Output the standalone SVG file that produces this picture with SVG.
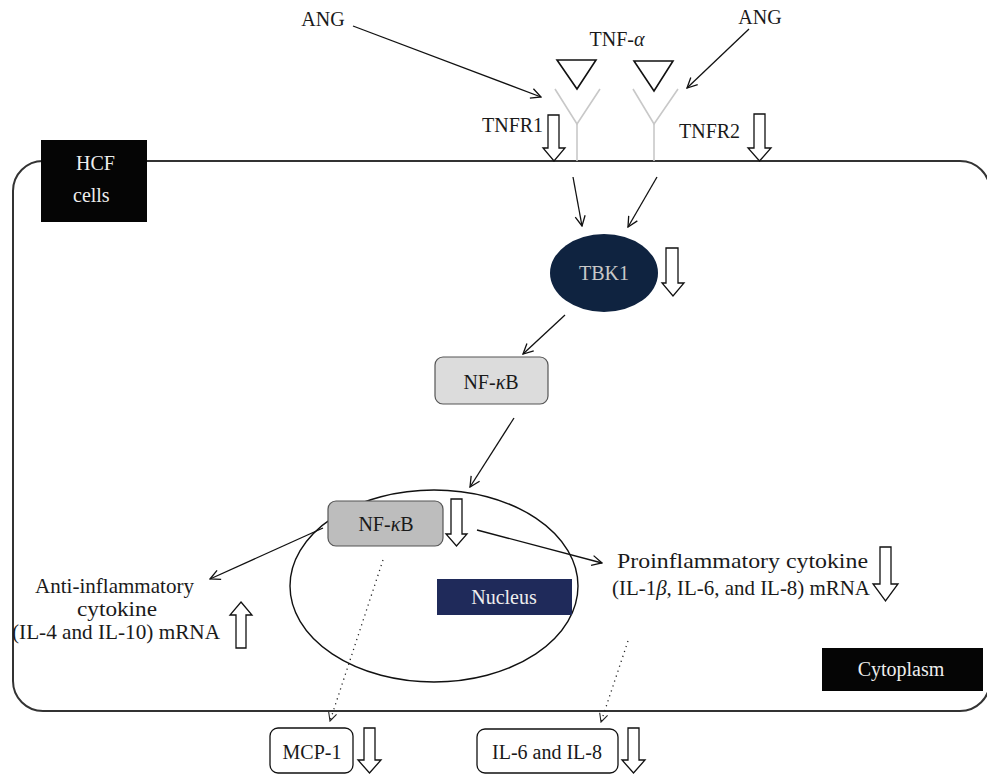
<svg xmlns="http://www.w3.org/2000/svg" width="987" height="775" viewBox="0 0 987 775">
<defs>
<style>
text{font-family:"Liberation Serif","DejaVu Serif",serif;font-size:20px;fill:#1a1a1a}
.mid{text-anchor:middle}
.big{font-size:21px}
.wt{fill:#eeeeee}
.ln{stroke:#111;stroke-width:1.3;fill:none}
.dot{stroke:#222;stroke-width:1.3;fill:none;stroke-dasharray:1.2 4}
.hol{fill:#fff;stroke:#111;stroke-width:1.3;stroke-linejoin:miter}
.rec{stroke:#c8c8c8;stroke-width:1.6;fill:none}
.tri{fill:#fff;stroke:#111;stroke-width:1.6}
</style>
<marker id="ah" viewBox="0 0 12 12" refX="11" refY="6" markerWidth="12" markerHeight="12" markerUnits="userSpaceOnUse" orient="auto">
<path d="M1,1 L11,6 L1,11" fill="none" stroke="#111" stroke-width="1.3"/>
</marker>
<marker id="ahs" viewBox="0 0 12 12" refX="11" refY="6" markerWidth="10" markerHeight="10" markerUnits="userSpaceOnUse" orient="auto">
<path d="M1,1 L11,6 L1,11" fill="none" stroke="#222" stroke-width="1.3"/>
</marker>
</defs>
<rect width="987" height="775" fill="#fff"/>

<g id="cell">
<rect x="13" y="161" width="977" height="550" rx="30" ry="30" fill="none" stroke="#333" stroke-width="2"/>
</g>

<g id="hcf-label">
<rect x="41" y="140" width="106" height="82" fill="#050505"/>
<text class="wt" x="76" y="170">HCF</text>
<text class="wt" x="73" y="202">cells</text>
</g>

<g id="cytoplasm-label">
<rect x="822" y="648" width="161" height="43" fill="#050505"/>
<text class="wt mid" x="901" y="676">Cytoplasm</text>
</g>

<g id="ang-left"><text class="mid" x="323" y="26">ANG</text></g>
<g id="ang-right"><text class="mid" x="760" y="24">ANG</text></g>
<g id="tnf-alpha">
<text class="mid" x="617" y="46">TNF-<tspan font-style="italic">α</tspan></text>
<polygon class="tri" points="557,60 596,60 577,89"/>
<polygon class="tri" points="634,61 673,61 654,91"/>
</g>

<g id="tnfr1">
<polyline class="rec" points="555,89 577,124 600,89"/>
<line class="rec" x1="577" y1="124" x2="577" y2="161"/>
<text x="482" y="132">TNFR1</text>
<polygon class="hol" points="548,115 559,115 559,148 565,148 554,161 543,148 548,148"/>
</g>

<g id="tnfr2">
<polyline class="rec" points="633,89 654,124 678,89"/>
<line class="rec" x1="654" y1="124" x2="654" y2="161"/>
<text x="679" y="138">TNFR2</text>
<polygon class="hol" points="754,114 765,114 765,148 771,148 759.5,161 748,148 754,148"/>
</g>

<g id="tbk1">
<ellipse cx="604" cy="273" rx="54" ry="39" fill="#0f2340"/>
<text class="mid" x="604" y="280" style="fill:#c8c8c8">TBK1</text>
<polygon class="hol" points="666,248 678,248 678,283 684,283 673,296 662,283 666,283"/>
</g>

<g id="nfkb-cyto">
<rect x="435" y="357" width="113" height="47" rx="8" fill="#dcdcdc" stroke="#555" stroke-width="1.2"/>
<text class="mid" x="491" y="389">NF-<tspan font-style="italic">κ</tspan>B</text>
</g>

<g id="nucleus">
<ellipse cx="434" cy="586" rx="144" ry="96" fill="none" stroke="#111" stroke-width="1.4"/>
<rect x="437" y="579" width="135" height="36" fill="#1f2a5a"/>
<text class="wt mid" x="504" y="604">Nucleus</text>
</g>

<g id="nfkb-nuc">
<rect x="328" y="501" width="115" height="45" rx="8" fill="#bdbdbd" stroke="#555" stroke-width="1.2"/>
<text class="mid" x="386" y="531">NF-<tspan font-style="italic">κ</tspan>B</text>
<polygon class="hol" points="451,499 462,499 462,534 467,534 456.5,546 446,534 451,534"/>
</g>

<g id="anti-inflammatory">
<text class="big" x="35" y="593" textLength="159" lengthAdjust="spacingAndGlyphs">Anti-inflammatory</text>
<text class="big" x="77" y="616" textLength="80" lengthAdjust="spacingAndGlyphs">cytokine</text>
<text class="big" x="12" y="639" textLength="208" lengthAdjust="spacingAndGlyphs">(IL-4 and IL-10) mRNA</text>
<polygon class="hol" points="241,602 252,615 246,615 246,648 236,648 236,615 230,615"/>
</g>

<g id="proinflammatory">
<text class="big" x="617" y="568" textLength="251" lengthAdjust="spacingAndGlyphs">Proinflammatory cytokine</text>
<text class="big" x="612" y="595" textLength="258" lengthAdjust="spacingAndGlyphs">(IL-1<tspan font-style="italic">β</tspan>, IL-6, and IL-8) mRNA</text>
<polygon class="hol" points="880,547 891,547 891,584 898,584 885.5,601 873,584 880,584"/>
</g>

<g id="mcp1">
<rect x="270" y="728" width="83" height="45" rx="8" fill="#fff" stroke="#111" stroke-width="1.3"/>
<text class="mid" x="312" y="759">MCP-1</text>
<polygon class="hol" points="364,728 375,728 375,760 381,760 369.5,773 358,760 364,760"/>
</g>

<g id="il6-il8">
<rect x="477" y="729" width="141" height="44" rx="8" fill="#fff" stroke="#111" stroke-width="1.3"/>
<text class="mid" x="547" y="759">IL-6 and IL-8</text>
<polygon class="hol" points="628,728 639,728 639,760 645,760 633.5,773 622,760 628,760"/>
</g>

<g id="connectors">
<line class="ln" x1="353" y1="26" x2="541" y2="97" marker-end="url(#ah)"/>
<line class="ln" x1="749" y1="29" x2="687" y2="88" marker-end="url(#ah)"/>
<line class="ln" x1="573" y1="177" x2="582" y2="226" marker-end="url(#ah)"/>
<line class="ln" x1="657" y1="177" x2="628" y2="227" marker-end="url(#ah)"/>
<line class="ln" x1="565" y1="315" x2="523" y2="354" marker-end="url(#ah)"/>
<line class="ln" x1="514" y1="418" x2="470" y2="487" marker-end="url(#ah)"/>
<line class="ln" x1="323" y1="528" x2="210" y2="579" marker-end="url(#ah)"/>
<line class="ln" x1="477" y1="530" x2="602" y2="563" marker-end="url(#ah)"/>
<line class="dot" x1="383" y1="560" x2="330" y2="721" marker-end="url(#ahs)"/>
<line class="dot" x1="628" y1="641" x2="601" y2="722" marker-end="url(#ahs)"/>
</g>
</svg>
